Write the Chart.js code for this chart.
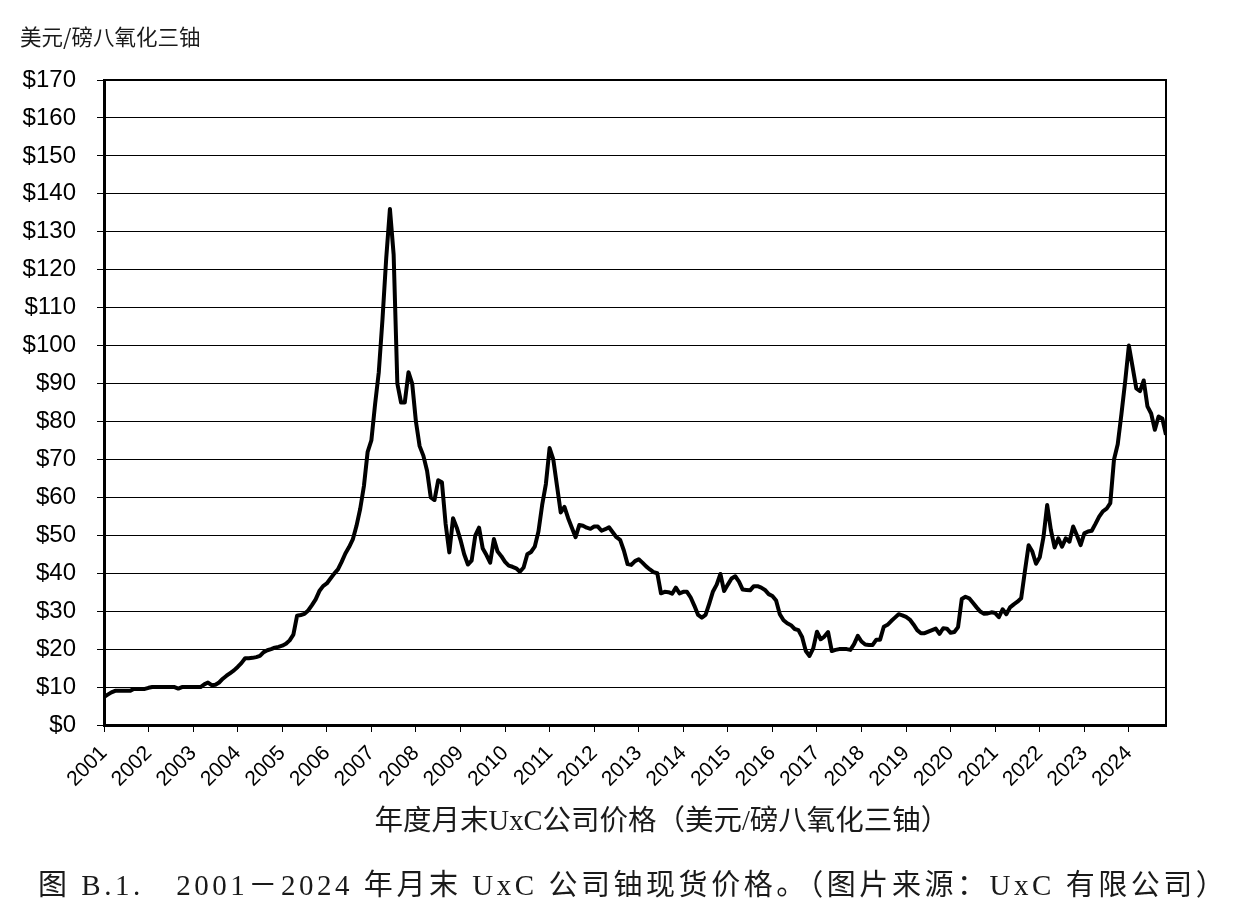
<!DOCTYPE html>
<html lang="zh">
<head>
<meta charset="utf-8">
<title>UxC 铀现货价格</title>
<script src="https://cdn.jsdelivr.net/npm/chart.js@4.4.1/dist/chart.umd.min.js"></script>
<style>
    html, body { margin: 0; padding: 0; background: #fff; }
    #wrap { position: relative; width: 1246px; height: 911px; overflow: hidden; }
    #chart { position: absolute; left: 0; top: 0; }
    .txt { position: absolute; white-space: nowrap; color: #1a1a1a; }
    #yTitle { left: 20px; top: 20px; font: 21.5px "Noto Sans CJK SC", sans-serif; }
    #xTitle { left: 0; width: 1324px; top: 797px; text-align: center;
              font: 28.5px "Liberation Serif", "Noto Sans CJK SC", serif; }
    #caption { left: 38px; top: 861px; font: 29px "Liberation Serif", "Noto Sans CJK SC", serif; }
</style>
</head>
<body>
<div id="wrap">
    <canvas id="chart" width="1246" height="911"></canvas>
    <div class="txt" id="yTitle">美元/磅八氧化三铀</div>
    <div class="txt" id="xTitle">年度月末UxC公司价格（美元/磅八氧化三铀）</div>
    <div class="txt" id="caption">图 B.1.&nbsp;&nbsp; 2001－2024 年月末 UxC 公司铀现货价格。（图片来源：UxC 有限公司）</div>
</div>
<script>
// month-end spot price, USD/lb U3O8, Jan..Dec of each year
const years = [2001, 2002, 2003, 2004, 2005, 2006, 2007, 2008, 2009, 2010, 2011, 2012,
               2013, 2014, 2015, 2016, 2017, 2018, 2019, 2020, 2021, 2022, 2023, 2024];

const p2001 = [7.4, 8.0, 8.6, 9.0, 9.0, 9.0, 9.0, 9.0, 9.5, 9.5, 9.5, 9.5];
const p2002 = [9.8, 10.0, 10.0, 10.0, 10.0, 10.0, 10.0, 10.0, 9.6, 10.0, 10.0, 10.0];
const p2003 = [10.0, 10.0, 10.0, 10.7, 11.2, 10.5, 10.6, 11.2, 12.2, 13.0, 13.7, 14.4];
const p2004 = [15.3, 16.3, 17.6, 17.6, 17.7, 17.9, 18.2, 19.2, 19.7, 20.0, 20.4, 20.6];
const p2005 = [20.9, 21.4, 22.3, 23.8, 28.8, 29.0, 29.3, 30.2, 31.6, 33.1, 35.3, 36.6];
const p2006 = [37.3, 38.6, 39.9, 41.0, 43.0, 45.2, 46.9, 48.9, 52.5, 57.0, 63.0, 72.0];
const p2007 = [75.0, 84.5, 93.0, 107.0, 123.0, 136.0, 124.0, 90.0, 85.0, 85.0, 93.0, 90.0];
const p2008 = [80.0, 73.5, 71.0, 67.0, 60.0, 59.3, 64.5, 64.0, 53.0, 45.5, 54.5, 52.0];
const p2009 = [48.8, 45.0, 42.3, 43.3, 50.0, 52.0, 46.5, 44.8, 42.8, 49.0, 45.7, 44.5];
const p2010 = [43.0, 42.0, 41.7, 41.3, 40.4, 41.5, 45.0, 45.6, 47.0, 51.0, 58.0, 63.5];
const p2011 = [73.0, 70.0, 63.0, 56.0, 57.5, 54.5, 52.0, 49.5, 52.7, 52.5, 52.0, 51.7];
const p2012 = [52.3, 52.3, 51.2, 51.6, 52.1, 50.8, 49.5, 48.8, 46.0, 42.4, 42.2, 43.2];
const p2013 = [43.7, 42.8, 41.8, 41.0, 40.3, 40.0, 34.7, 35.1, 35.0, 34.6, 36.2, 34.7];
const p2014 = [35.1, 35.1, 33.6, 31.4, 29.0, 28.3, 29.0, 32.0, 35.2, 37.0, 39.8, 35.3];
const p2015 = [37.0, 38.6, 39.2, 37.8, 35.7, 35.6, 35.5, 36.6, 36.6, 36.2, 35.6, 34.5];
const p2016 = [34.0, 32.8, 29.2, 27.6, 26.8, 26.3, 25.3, 25.0, 23.2, 19.5, 18.2, 20.2];
const p2017 = [24.6, 22.6, 23.3, 24.5, 19.5, 19.8, 20.0, 20.0, 20.0, 19.8, 21.3, 23.5];
const p2018 = [22.0, 21.2, 21.1, 21.1, 22.5, 22.5, 25.9, 26.4, 27.4, 28.3, 29.2, 28.9];
const p2019 = [28.5, 27.8, 26.5, 25.0, 24.2, 24.2, 24.6, 25.0, 25.4, 24.0, 25.5, 25.4];
const p2020 = [24.3, 24.5, 25.8, 33.2, 33.8, 33.4, 32.2, 31.0, 29.9, 29.3, 29.4, 29.7];
const p2021 = [29.5, 28.4, 30.5, 29.2, 31.0, 31.8, 32.5, 33.4, 40.5, 47.4, 45.7, 42.5];
const p2022 = [44.2, 49.5, 58.0, 51.4, 46.8, 49.2, 47.0, 49.2, 48.3, 52.3, 50.0, 47.4];
const p2023 = [50.5, 51.0, 51.2, 53.0, 54.9, 56.3, 57.0, 58.5, 70.0, 74.0, 82.0, 90.5];
const p2024 = [100.0, 94.4, 88.7, 88.0, 90.8, 84.0, 82.1, 77.8, 81.3, 80.8, 76.5];

const yTicks = [0, 10, 20, 30, 40, 50, 60, 70, 80, 90, 100, 110, 120, 130, 140, 150, 160, 170];

const prices = [].concat(p2001, p2002, p2003, p2004, p2005, p2006, p2007, p2008,
    p2009, p2010, p2011, p2012, p2013, p2014, p2015, p2016, p2017, p2018,
    p2019, p2020, p2021, p2022, p2023, p2024);

// plot box in page pixels
const box = { left: 104, top: 80, right: 1166, bottom: 725 };

const framePlugin = {
    id: 'frame',
    afterDraw(chart) {
        const a = chart.chartArea;
        const ctx = chart.ctx;
        ctx.save();
        ctx.strokeStyle = '#000';
        ctx.lineWidth = 2;
        ctx.beginPath();
        ctx.moveTo(a.left, a.top);
        ctx.lineTo(a.right, a.top);
        ctx.lineTo(a.right, a.bottom);
        ctx.stroke();
        ctx.restore();
    }
};

new Chart(document.getElementById('chart'), {
    type: 'line',
    data: {
        datasets: [{
            data: prices.map((v, i) => ({ x: i, y: v })),
            borderColor: '#000',
            borderWidth: 4,
            borderJoinStyle: 'round',
            pointRadius: 0,
            tension: 0,
            fill: false
        }]
    },
    options: {
        responsive: false,
        animation: false,
        layout: { padding: { left: 0, top: box.top, right: 1246 - box.right, bottom: 0 } },
        plugins: { legend: { display: false }, tooltip: { enabled: false } },
        scales: {
            x: {
                type: 'linear',
                min: 0,
                max: prices.length - 1,
                afterBuildTicks: (scale) => {
                    scale.ticks = years.map((y, i) => ({ value: i * 12 }));
                },
                afterFit: (scale) => { scale.height = 911 - box.bottom; },
                ticks: {
                    autoSkip: false,
                    maxRotation: 45,
                    minRotation: 45,
                    padding: 9,
                    color: '#000',
                    font: { family: '"Liberation Sans", Arial, sans-serif', size: 21 },
                    callback: (v) => String(2001 + v / 12)
                },
                grid: { drawOnChartArea: false, drawTicks: true, tickLength: 7, color: '#000', lineWidth: 1 },
                border: { display: true, color: '#000', width: 3 }
            },
            y: {
                min: 0,
                max: 170,
                afterBuildTicks: (scale) => {
                    scale.ticks = yTicks.map(v => ({ value: v }));
                },
                afterFit: (scale) => { scale.width = box.left; },
                ticks: {
                    padding: 21,
                    color: '#000',
                    font: { family: '"Liberation Sans", Arial, sans-serif', size: 24 },
                    callback: (v) => '$' + v
                },
                grid: { color: '#000', lineWidth: 1, tickLength: 7 },
                border: { display: true, color: '#000', width: 3 }
            }
        }
    },
    plugins: [framePlugin]
});

// stretch caption spacing to the reference width
const cap = document.getElementById('caption');
const capWidth = 1187;
const natural = cap.getBoundingClientRect().width;
const chars = cap.textContent.length;
cap.style.letterSpacing = ((capWidth - natural) / (chars - 1)).toFixed(2) + 'px';
</script>
</body>
</html>
